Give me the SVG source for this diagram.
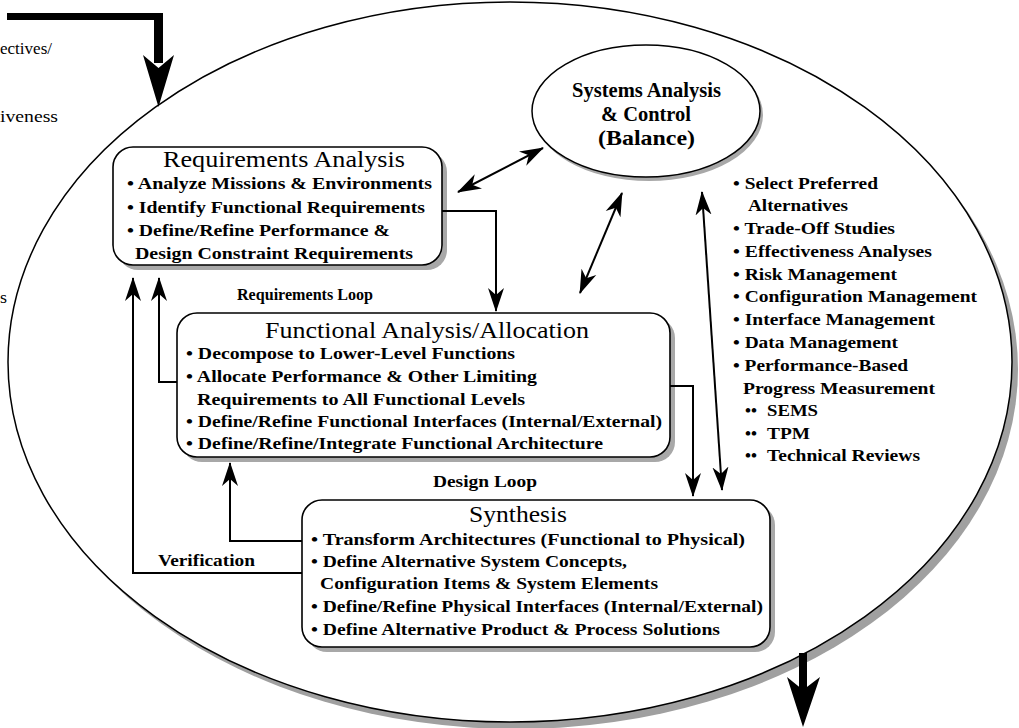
<svg xmlns="http://www.w3.org/2000/svg" width="1019" height="728" viewBox="0 0 1019 728">
<style>
.t{font-family:"Liberation Serif","Times New Roman",serif;fill:#000}
.ti{font-size:23px}
.b{font-size:17px;font-weight:bold}
.lb{font-size:16px;font-weight:bold}
.sm{font-size:16px}
.conn{fill:none;stroke:#000;stroke-width:2}
.box{fill:#fff;stroke:#000;stroke-width:1.6}
.sh{fill:#a8a8a8}
</style>
<defs>
<marker id="ah" viewBox="0 -9 24 18" refX="23" refY="0" markerWidth="24" markerHeight="18" markerUnits="userSpaceOnUse" orient="auto-start-reverse">
<path d="M24,0 L0,-8 L7,0 L0,8 Z" fill="#000"/>
</marker>
</defs>
<rect width="1019" height="728" fill="#fff"/>

<g id="outer-ellipse">
<ellipse cx="516" cy="369" rx="502" ry="360" fill="#a0a0a0"/>
<ellipse cx="510" cy="362" rx="502" ry="360" fill="#fff" stroke="#000" stroke-width="1.5"/>
</g>

<g id="left-partial-text">
<text class="t sm" x="0" y="54" textLength="52" lengthAdjust="spacingAndGlyphs">ectives/</text>
<text class="t sm" x="0" y="122" textLength="58" lengthAdjust="spacingAndGlyphs">iveness</text>
<text class="t sm" x="0" y="303" textLength="7" lengthAdjust="spacingAndGlyphs">s</text>
</g>

<g id="input-arrow">
<rect x="7" y="13" width="156" height="7" fill="#000"/>
<rect x="154" y="13" width="9" height="50" fill="#000"/>
<polygon points="158.5,107 143,55 158.5,68 174,55" fill="#000"/>
</g>

<g id="output-arrow">
<rect x="799" y="653" width="8" height="38" fill="#000"/>
<polygon points="803,727 787,677 803,690 820,677" fill="#000"/>
</g>

<g id="systems-analysis">
<ellipse cx="649" cy="115" rx="114" ry="66" fill="#a8a8a8"/>
<ellipse cx="646" cy="111" rx="114" ry="66" fill="#fff" stroke="#000" stroke-width="1.5"/>
<text class="t" style="font-size:21px;font-weight:bold" x="572" y="97" textLength="149" lengthAdjust="spacingAndGlyphs">Systems Analysis</text>
<text class="t" style="font-size:21px;font-weight:bold" x="601" y="121" textLength="90" lengthAdjust="spacingAndGlyphs">&amp; Control</text>
<text class="t" style="font-size:21px;font-weight:bold" x="598" y="145" textLength="97" lengthAdjust="spacingAndGlyphs">(Balance)</text>
</g>

<g id="requirements-analysis">
<rect class="sh" x="118" y="152" width="329" height="118" rx="20"/>
<rect class="box" x="113" y="147" width="329" height="118" rx="20"/>
<text class="t ti" x="163" y="167" textLength="242" lengthAdjust="spacingAndGlyphs">Requirements Analysis</text>
<text class="t b" x="127" y="189" textLength="305" lengthAdjust="spacingAndGlyphs">• Analyze Missions &amp; Environments</text>
<text class="t b" x="127" y="213" textLength="298" lengthAdjust="spacingAndGlyphs">• Identify Functional Requirements</text>
<text class="t b" x="127" y="236" textLength="263" lengthAdjust="spacingAndGlyphs">• Define/Refine Performance &amp;</text>
<text class="t b" x="135" y="259" textLength="278" lengthAdjust="spacingAndGlyphs">Design Constraint Requirements</text>
</g>

<g id="functional-analysis">
<rect class="sh" x="182" y="318" width="493" height="144" rx="20"/>
<rect class="box" x="177" y="313" width="493" height="144" rx="20"/>
<text class="t ti" x="265" y="338" textLength="324" lengthAdjust="spacingAndGlyphs">Functional Analysis/Allocation</text>
<text class="t b" x="186" y="359" textLength="329" lengthAdjust="spacingAndGlyphs">• Decompose to Lower-Level Functions</text>
<text class="t b" x="186" y="382" textLength="351" lengthAdjust="spacingAndGlyphs">• Allocate Performance &amp; Other Limiting</text>
<text class="t b" x="197" y="405" textLength="328" lengthAdjust="spacingAndGlyphs">Requirements to All Functional Levels</text>
<text class="t b" x="186" y="427" textLength="476" lengthAdjust="spacingAndGlyphs">• Define/Refine Functional Interfaces (Internal/External)</text>
<text class="t b" x="186" y="449" textLength="417" lengthAdjust="spacingAndGlyphs">• Define/Refine/Integrate Functional Architecture</text>
</g>

<g id="synthesis">
<rect class="sh" x="307" y="505" width="468" height="147" rx="20"/>
<rect class="box" x="302" y="500" width="468" height="147" rx="20"/>
<text class="t ti" x="469" y="522" textLength="98" lengthAdjust="spacingAndGlyphs">Synthesis</text>
<text class="t b" x="311" y="545" textLength="434" lengthAdjust="spacingAndGlyphs">• Transform Architectures (Functional to Physical)</text>
<text class="t b" x="311" y="567" textLength="316" lengthAdjust="spacingAndGlyphs">• Define Alternative System Concepts,</text>
<text class="t b" x="320" y="589" textLength="338" lengthAdjust="spacingAndGlyphs">Configuration Items &amp; System Elements</text>
<text class="t b" x="311" y="612" textLength="452" lengthAdjust="spacingAndGlyphs">• Define/Refine Physical Interfaces (Internal/External)</text>
<text class="t b" x="311" y="635" textLength="409" lengthAdjust="spacingAndGlyphs">• Define Alternative Product &amp; Process Solutions</text>
</g>

<g id="control-list">
<text class="t b" x="733" y="189" textLength="145" lengthAdjust="spacingAndGlyphs">• Select Preferred</text>
<text class="t b" x="748" y="211" textLength="100" lengthAdjust="spacingAndGlyphs">Alternatives</text>
<text class="t b" x="733" y="234" textLength="162" lengthAdjust="spacingAndGlyphs">• Trade-Off Studies</text>
<text class="t b" x="733" y="257" textLength="199" lengthAdjust="spacingAndGlyphs">• Effectiveness Analyses</text>
<text class="t b" x="733" y="280" textLength="164" lengthAdjust="spacingAndGlyphs">• Risk Management</text>
<text class="t b" x="733" y="302" textLength="244" lengthAdjust="spacingAndGlyphs">• Configuration Management</text>
<text class="t b" x="733" y="325" textLength="202" lengthAdjust="spacingAndGlyphs">• Interface Management</text>
<text class="t b" x="733" y="348" textLength="165" lengthAdjust="spacingAndGlyphs">• Data Management</text>
<text class="t b" x="733" y="371" textLength="175" lengthAdjust="spacingAndGlyphs">• Performance-Based</text>
<text class="t b" x="743" y="394" textLength="192" lengthAdjust="spacingAndGlyphs">Progress Measurement</text>
<text class="t b" x="745" y="416">••</text>
<text class="t b" x="767" y="416" textLength="51" lengthAdjust="spacingAndGlyphs">SEMS</text>
<text class="t b" x="745" y="439">••</text>
<text class="t b" x="767" y="439" textLength="43" lengthAdjust="spacingAndGlyphs">TPM</text>
<text class="t b" x="745" y="461">••</text>
<text class="t b" x="767" y="461" textLength="153" lengthAdjust="spacingAndGlyphs">Technical Reviews</text>
</g>

<g id="labels">
<text class="t lb" x="237" y="300" textLength="136" lengthAdjust="spacingAndGlyphs">Requirements Loop</text>
<text class="t lb" x="433" y="487" textLength="104" lengthAdjust="spacingAndGlyphs">Design Loop</text>
<text class="t lb" x="158" y="566" textLength="97" lengthAdjust="spacingAndGlyphs">Verification</text>
</g>

<g id="connectors">
<path class="conn" d="M458,192 L543,148" marker-start="url(#ah)" marker-end="url(#ah)"/>
<path class="conn" d="M580,293 L622,193" marker-start="url(#ah)" marker-end="url(#ah)"/>
<path class="conn" d="M702,192 L722,490" marker-start="url(#ah)" marker-end="url(#ah)"/>
<path class="conn" d="M442,211 H496 V311" marker-end="url(#ah)"/>
<path class="conn" d="M670,386 H693 V496" marker-end="url(#ah)"/>
<path class="conn" d="M177,382 H159 V278" marker-end="url(#ah)"/>
<path class="conn" d="M302,573 H133 V278" marker-end="url(#ah)"/>
<path class="conn" d="M302,541 H230 V463" marker-end="url(#ah)"/>
</g>
</svg>
